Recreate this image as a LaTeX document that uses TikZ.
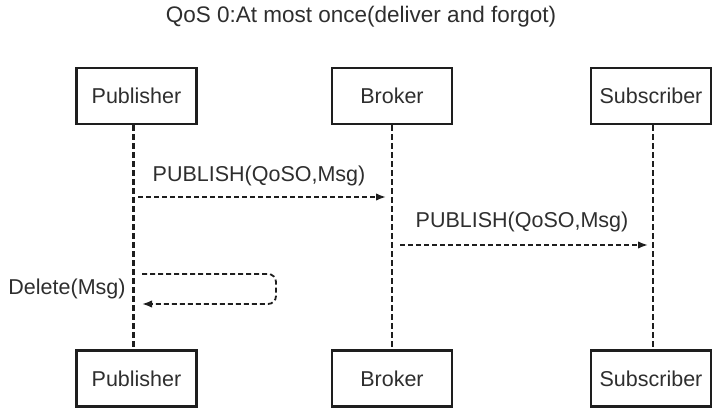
\documentclass[tikz,border=0pt]{standalone}
\usepackage{fontspec}
\setmainfont{Liberation Sans}
\usetikzlibrary{arrows.meta}
\definecolor{ink}{HTML}{1E1E1E}
\definecolor{txt}{HTML}{2E2E2E}
\begin{document}
\begin{tikzpicture}[x=1pt,y=-1pt,
  actor/.style={draw=ink,line width=2.2pt,minimum width=120pt,minimum height=56pt,inner sep=0pt,text=txt,font=\fontsize{21.5}{25}\selectfont},
  lifeline/.style={draw=ink,line width=2.2pt,dash pattern=on 6pt off 3pt},
  msg/.style={draw=ink,line width=1.8pt,dash pattern=on 5pt off 3pt,-{Latex[length=10pt,width=7.5pt]}},
  lbl/.style={text=txt,font=\fontsize{21.5}{25}\selectfont,inner sep=0pt}]
\useasboundingbox (0,0) rectangle (718,413);
\node[text=txt,font=\fontsize{22.5}{27}\selectfont,inner sep=0pt] (title) at (361,17) {QoS 0:At most once(deliver and forgot)};
\node[actor] (pub) at (136.5,96) {Publisher};
\node[actor] (bro) at (392,96) {Broker};
\node[actor] (sub) at (651,96) {Subscriber};
\node[actor] (pubB) at (136.5,378.5) {Publisher};
\node[actor] (broB) at (392,378.5) {Broker};
\node[actor] (subB) at (651,378.5) {Subscriber};
\draw[lifeline] ([xshift=-3pt]pub.south) -- ([xshift=-3pt]pubB.north);
\draw[lifeline] (bro.south) -- (broB.north);
\draw[lifeline] ([xshift=2pt]sub.south) -- ([xshift=2pt]subB.north);
\coordinate (a1s) at (138,197);
\coordinate (a1e) at (386,197);
\draw[msg] (a1s) -- (a1e);
\node[lbl] (l1) at (259,176) {PUBLISH(QoSO,Msg)};
\coordinate (a2s) at (400,245);
\coordinate (a2e) at (648,245);
\draw[msg] (a2s) -- (a2e);
\node[lbl] (l2) at (522,222) {PUBLISH(QoSO,Msg)};
\coordinate (d1) at (142,274);
\coordinate (d2) at (142,304);
\draw[msg,rounded corners=8pt] (d1) -- (276,274) -- (276,304) -- (d2);
\node[lbl] (l3) at (67,289) {Delete(Msg)};
\end{tikzpicture}
\end{document}
